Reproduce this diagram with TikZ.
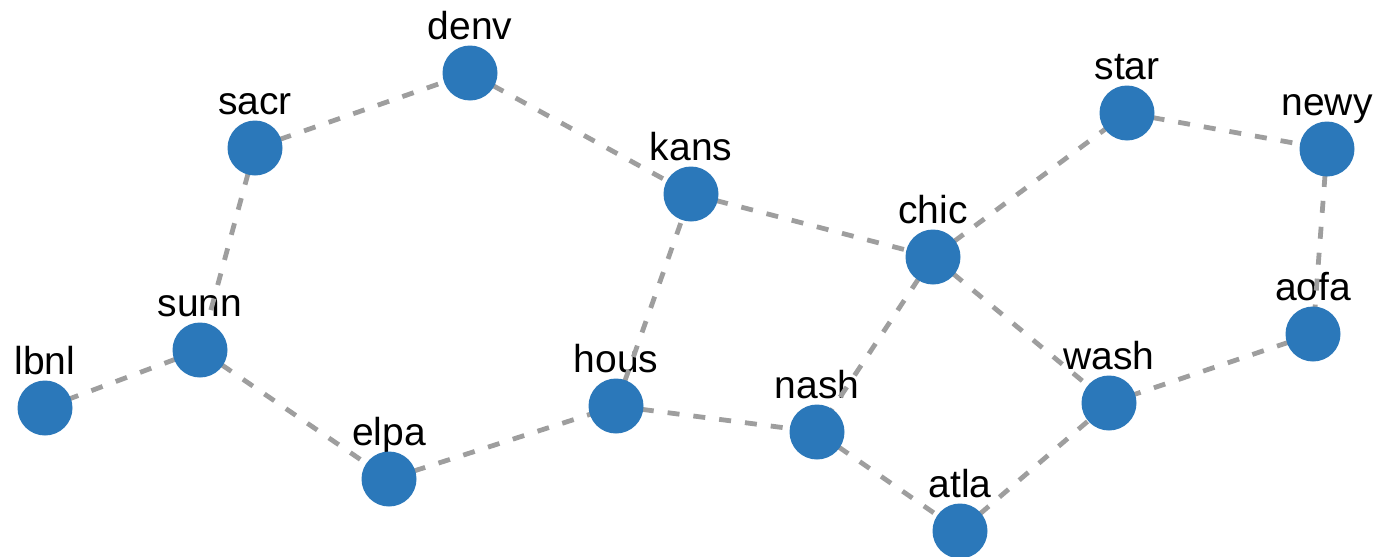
\documentclass[tikz,border=0pt]{standalone}
\usepackage{fontspec}
\setmainfont{Liberation Sans}
% labels at the bottom, links over them, site dots on top
\pgfdeclarelayer{labels}
\pgfdeclarelayer{links}
\pgfsetlayers{labels,links,main}
\definecolor{sitefill}{RGB}{43,120,186}
\definecolor{linkgray}{RGB}{158,158,158}
\tikzset{
  site/.style={circle, fill=sitefill, minimum size=55pt, inner sep=0pt},
  sitelabel/.style={anchor=base, font=\fontsize{39}{40}\selectfont, text=black, inner sep=0pt},
  link/.style={draw=linkgray, line width=4.8pt, dash pattern=on 12pt off 14pt}
}
\begin{document}
\begin{tikzpicture}[x=1pt,y=-1pt]
\useasboundingbox (0,0) rectangle (1377,557);
\foreach \n/\x/\y in {
  denv/470/73, sacr/255/148, kans/691/194, star/1127/113, newy/1327/149,
  chic/933/257, aofa/1313/334, sunn/200/350, lbnl/45/408, hous/616/406,
  wash/1109/403, nash/817/432, elpa/389/479, atla/960/531}
{
  \node[site] (\n) at (\x,\y) {};
  \begin{pgfonlayer}{labels}
    \node[sitelabel] (\n-label) at ([yshift=34pt]\n.center) {\n};
  \end{pgfonlayer}
}
\begin{pgfonlayer}{links}
  \foreach \a/\b in {
    sacr/denv, denv/kans, sacr/sunn, sunn/lbnl, sunn/elpa, elpa/hous,
    hous/kans, hous/nash, kans/chic, chic/star, star/newy, newy/aofa,
    aofa/wash, chic/nash, chic/wash, nash/atla, atla/wash}
    \draw[link] (\a.center) -- (\b.center);
\end{pgfonlayer}
\end{tikzpicture}
\end{document}
